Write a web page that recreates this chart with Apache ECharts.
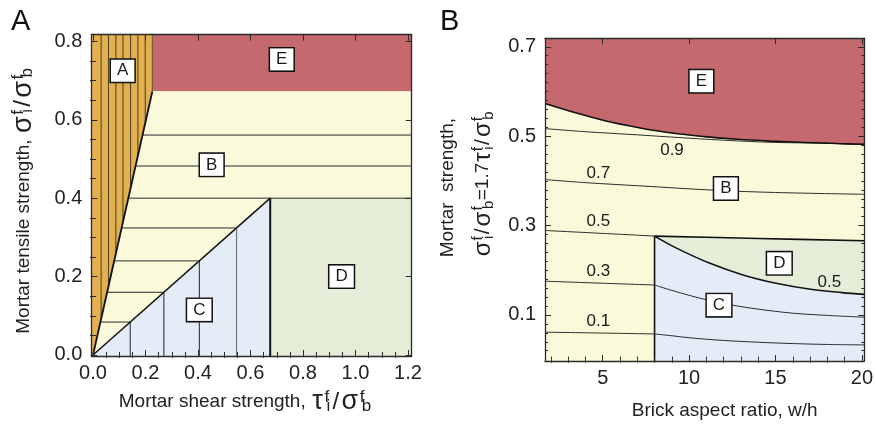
<!DOCTYPE html>
<html><head><meta charset="utf-8">
<script src="https://cdn.jsdelivr.net/npm/echarts@6/dist/echarts.min.js"></script>
<style>html,body{margin:0;padding:0;background:#fff}#c{width:876px;height:426px}</style>
</head><body><div id="c"></div>
<script>
// ---------------- Panel A data ----------------
const aTicksX = [0, 0.2, 0.4, 0.6, 0.8, 1.0, 1.2];
const aTicksY = [0, 0.2, 0.4, 0.6, 0.8];
const aExtX = [-0.0065, 1.214];
const aExtY = [-0.0026, 0.817];
const aBoundTop = [0.226, 0.672];      // A/B boundary end, E bottom
const aCornerD = [0.675, 0.4];         // C/D/B corner
const aLinesX = [0.031, 0.059, 0.087, 0.114, 0.143, 0.171, 0.199];   // contours in A
const bLinesY = [0.084, 0.160, 0.240, 0.324, 0.400, 0.482, 0.561];   // contours in B
const cLinesN = 4;                      // first 4 B contours continue into C
const aBoxPos = [[0.113, 0.725], [0.719, 0.754], [0.452, 0.485], [0.947, 0.2], [0.405, 0.115]];
const aBoxText = ['A', 'E', 'B', 'D', 'C'];

// ---------------- Panel B data ----------------
const bTicksX = [5, 10, 15, 20];
const bTicksY = [0.1, 0.3, 0.5, 0.7];
const bExtX = [1.66, 20.14];
const bExtY = [-0.003, 0.719];
const eBoundary = [[1.66,0.573],[3.28,0.554],[5.19,0.534],[7.1,0.519],[9.0,0.507],[10.9,0.499],[12.8,0.493],[14.7,0.489],[16.7,0.486],[18.6,0.4835],[20.14,0.482]];
const c09 = [[1.66,0.517],[4,0.510],[7,0.503],[9,0.498],[12,0.491],[15,0.486],[17.6,0.4845],[20.14,0.481]];
const c07 = [[1.66,0.403],[4,0.396],[7.1,0.389],[11.5,0.379],[15,0.374],[20.14,0.370]];
const c05L = [[1.66,0.289],[5,0.2825],[8,0.2765]];
const dTop = [[8,0.2765],[14,0.2712],[20.14,0.266]];
const dcBoundary = [[8,0.2765],[9.3,0.249],[11.21,0.2155],[13.12,0.1894],[15.03,0.1708],[16.94,0.158],[18.85,0.150],[20.14,0.146]];
const c03L = [[1.66,0.1755],[5,0.171],[8,0.167]];
const c03C = [[8,0.167],[9,0.155],[10,0.144],[11,0.134],[12.5,0.122],[14,0.113],[16,0.104],[18,0.099],[20.14,0.095]];
const c01L = [[1.66,0.0615],[5,0.0595],[8,0.0575]];
const c01C = [[8,0.0575],[9,0.0535],[10,0.049],[12,0.043],[14,0.039],[16,0.036],[18,0.034],[20.14,0.033]];
const cdSplitX = 8;
const bContourPos = [[9.01,0.469],[4.75,0.416],[4.75,0.309],[4.75,0.197],[4.75,0.0855],[18.12,0.174]];
const bContourText = ['0.9','0.7','0.5','0.3','0.1','0.5'];
const bBoxPos = [[10.71,0.623],[12.13,0.383],[15.22,0.2155],[11.73,0.122]];
const bBoxText = ['E','B','D','C'];

// ---------------- styling ----------------
const F = "'Liberation Sans', Arial, Helvetica, sans-serif";
const COL = {E:'#c5696e', A:'#e2b04f', B:'#fafadb', C:'#e4ecf8', D:'#e5ecd8'};
const FRAME = '#2a2a2a';

function minorList(a, b, step, majors) {
  const out = [];
  for (let v = a; v <= b + 1e-9; v += step) {
    const r = Math.round(v * 1000) / 1000;
    if (!majors.some(m => Math.abs(m - r) < 1e-6)) out.push(r);
  }
  return out;
}

function makeAxes(dir, g, ext, major, minor, fmt, nameObj, margin) {
  const pos = dir === 'x' ? ['bottom', 'top'] : ['left', 'right'];
  const base = {type:'value', gridIndex:g, min:ext[0], max:ext[1], z:10, splitLine:{show:false}};
  const line = {show:true, onZero:false, lineStyle:{color:FRAME, width:1.3}};
  const tk = (vals, len) => ({show:true, inside:true, length:len, customValues:vals, lineStyle:{color:FRAME, width:1}});
  return [
    Object.assign({}, base, {position:pos[0], axisLine:line, axisTick:tk(major, 6),
      axisLabel:{show:true, customValues:major, formatter:fmt, fontSize:20, fontFamily:F, color:'#222', margin:margin}}, nameObj),
    Object.assign({}, base, {position:pos[0], axisLine:{show:false}, axisTick:tk(minor, 3), axisLabel:{show:false}}),
    Object.assign({}, base, {position:pos[1], axisLine:line, axisTick:tk(major, 6), axisLabel:{show:false}}),
    Object.assign({}, base, {position:pos[1], axisLine:{show:false}, axisTick:tk(minor, 3), axisLabel:{show:false}})
  ];
}

function richSet(gSize, slSize, sSize, gPad, sPad) {
  return {
    n:  {fontSize:19, fontFamily:F, color:'#222', lineHeight:26, align:'left', verticalAlign:'middle'},
    n1: {fontSize:19, fontFamily:F, color:'#222', lineHeight:44, align:'left', verticalAlign:'middle'},
    g:  {fontSize:gSize, fontFamily:F, color:'#222', lineHeight:26, align:'left', verticalAlign:'middle', padding:[0,gPad/2,0,gPad]},
    sl: {fontSize:slSize, fontFamily:F, color:'#222', lineHeight:26, align:'left', verticalAlign:'middle', padding:[0,gPad,0,gPad]},
    sp: {fontSize:sSize, fontFamily:F, color:'#222', lineHeight:sSize, align:'left', verticalAlign:'top', width:1, padding:[0,0,0,sPad]},
    sb: {fontSize:sSize, fontFamily:F, color:'#222', lineHeight:sSize, align:'left', verticalAlign:'bottom', padding:[0,sPad,0,sPad]}
  };
}
const richA = richSet(27, 24, 17, 1.2, 1);
const richB = richSet(24, 21, 15, 1, 0.5);
const fracTau = '{g|τ}{sp|f}{sb|i}{sl|/}{g|σ}{sp|f}{sb|b}';
const fracSig = '{g|σ}{sp|f}{sb|i}{sl|/}{g|σ}{sp|f}{sb|b}';

function polySeries(g, polys, colors) {
  return {type:'custom', coordinateSystem:'cartesian2d', xAxisIndex:g*4, yAxisIndex:g*4, silent:true, z:1, clip:true,
    data: polys.map((p, i) => [i, 0]),
    renderItem: (params, api) => {
      const i = params.dataIndex;
      return {type:'polygon', shape:{points: polys[i].map(p => api.coord(p))},
        style:{fill:colors[i], stroke:colors[i], lineWidth:0.6}};
    }};
}
function segSeries(g, segs, color, width, z) {
  return {type:'custom', coordinateSystem:'cartesian2d', xAxisIndex:g*4, yAxisIndex:g*4, silent:true, z:z||3, clip:true,
    data: segs,
    renderItem: (params, api) => {
      const p1 = api.coord([api.value(0), api.value(1)]);
      const p2 = api.coord([api.value(2), api.value(3)]);
      return {type:'line', shape:{x1:p1[0], y1:p1[1], x2:p2[0], y2:p2[1]}, style:{stroke:color, lineWidth:width}};
    }};
}
function curve(g, pts, color, width) {
  return {type:'line', xAxisIndex:g*4, yAxisIndex:g*4, data:pts, showSymbol:false, symbol:'none', smooth:0.35,
    silent:true, z:3, lineStyle:{color:color, width:width}};
}
function textSeries(g, pos, texts, boxed, size) {
  return {type:'custom', coordinateSystem:'cartesian2d', xAxisIndex:g*4, yAxisIndex:g*4, silent:true, z:5,
    data: pos,
    renderItem: (params, api) => {
      const c = api.coord([api.value(0), api.value(1)]);
      const st = {text:texts[params.dataIndex], fontSize:size, fontFamily:F, fill:'#1a1a1a', align:'center', verticalAlign:'middle'};
      if (boxed) Object.assign(st, {backgroundColor:'#fff', borderColor:'#111', borderWidth:1.5, padding:[3,6,2,6]});
      return {type:'text', x:c[0], y:c[1], style:st};
    }};
}

// ---- Panel A geometry from data ----
const [ax0, ax1] = aExtX, [ay0, ay1] = aExtY;
const [bx, by] = aBoundTop, [cx, cy] = aCornerD;
const polysA = [
  [[ax0,ay0],[ax0,ay1],[bx,ay1],[bx,by],[0,0],[0,ay0]],      // A
  [[bx,by],[bx,ay1],[ax1,ay1],[ax1,by]],                      // E
  [[0,0],[bx,by],[ax1,by],[ax1,cy],[cx,cy]],                  // B
  [[0,ay0],[0,0],[cx,cy],[cx,ay0]],                           // C
  [[cx,ay0],[cx,cy],[ax1,cy],[ax1,ay0]]                       // D
];
const colorsA = [COL.A, COL.E, COL.B, COL.C, COL.D];
const slopeA = by / bx, slopeC = cy / cx;
const segA = aLinesX.map(x => [x, x * slopeA, x, ay1]);
const segB = bLinesY.map(y => [y / slopeA, y, (y < cy - 1e-9 ? y / slopeC : ax1), y]);
const segC = bLinesY.slice(0, cLinesN).map(y => [y / slopeC, y, y / slopeC, ay0]);

// ---- Panel B geometry from data ----
const [bx0, bx1] = bExtX, [by0, by1] = bExtY;
const polysB = [
  [[bx0,by0],[bx0,by1],[bx1,by1],[bx1,by0]],
  eBoundary.concat([[bx1,by1],[bx0,by1]]),
  dTop.concat(dcBoundary.slice().reverse()),
  [[cdSplitX,by0]].concat(dcBoundary, [[bx1,by0]])
];
const colorsB = [COL.B, COL.E, COL.D, COL.C];

const nameAx = {name:'{n|Mortar shear strength, }' + fracTau, nameLocation:'middle', nameGap:33,
  nameTextStyle:{rich:richA, padding:[0,12,0,0]}};
const nameAy = {name:'{n|Mortar tensile strength, }' + fracSig, nameLocation:'middle', nameGap:55,
  nameTextStyle:{rich:richA, padding:[0,10,0,0]}};
const nameBx = {name:'Brick aspect ratio, w/h', nameLocation:'middle', nameGap:40,
  nameTextStyle:{fontSize:19, fontFamily:F, color:'#222', padding:[0,0,0,40]}};
const nameBy = {name:'{n1|Mortar  strength,}\n' + fracSig + '{n|=1.7}' + fracTau,
  nameLocation:'middle', nameGap:49, nameTextStyle:{rich:richB, padding:[0,0,0,31]}};

const fmt1 = v => v.toFixed(1);
const xAxes = makeAxes('x', 0, aExtX, aTicksX, minorList(0, 1.2, 0.05, aTicksX), fmt1, nameAx, 7)
  .concat(makeAxes('x', 1, bExtX, bTicksX, minorList(2, 20, 1, bTicksX), v => String(v), nameBx, 7));
const yAxes = makeAxes('y', 0, aExtY, aTicksY, minorList(0, 0.8, 0.05, aTicksY), fmt1, nameAy, 9)
  .concat(makeAxes('y', 1, bExtY, bTicksY, minorList(0.02, 0.7, 0.02, bTicksY), fmt1, nameBy, 9));

const option = {
  animation:false,
  backgroundColor:'#fff',
  grid:[
    {left:91.3, top:34.7, width:320.4, height:321.3},
    {left:545, top:38.3, width:322.5, height:322.7}
  ],
  xAxis:xAxes,
  yAxis:yAxes,
  graphic:[
    {type:'text', left:11, top:7, style:{text:'A', fontSize:29, fontFamily:F, fill:'#111'}},
    {type:'text', left:440, top:7, style:{text:'B', fontSize:29, fontFamily:F, fill:'#111'}}
  ],
  series:[
    polySeries(0, polysA, colorsA),
    segSeries(0, segA, '#554628', 1.1),
    segSeries(0, [[bx, by, bx, ay1]], '#6a5a35', 1),
    segSeries(0, segB, '#2a2a2a', 1),
    segSeries(0, segC.slice(0, 3), '#222', 1),
    segSeries(0, segC.slice(3), '#777', 1.2),
    segSeries(0, [[0, 0, bx, by]], '#111', 1.8, 4),
    segSeries(0, [[0, 0, cx, cy]], '#111', 1.5, 4),
    segSeries(0, [[cx, ay0, cx, cy]], '#111', 2, 4),
    textSeries(0, aBoxPos, aBoxText, true, 17),

    polySeries(1, polysB, colorsB),
    curve(1, c09, '#2d2d2d', 1),
    curve(1, c07, '#2d2d2d', 1),
    curve(1, c05L, '#2d2d2d', 1),
    curve(1, c03L, '#2d2d2d', 1),
    curve(1, c03C, '#2d2d2d', 1),
    curve(1, c01L, '#2d2d2d', 1),
    curve(1, c01C, '#2d2d2d', 1),
    curve(1, eBoundary, '#111', 1.6),
    curve(1, dTop, '#111', 1.6),
    curve(1, dcBoundary, '#111', 1.6),
    segSeries(1, [[cdSplitX, by0, cdSplitX, dTop[0][1]]], '#111', 1.6, 4),
    textSeries(1, bContourPos, bContourText, false, 17),
    textSeries(1, bBoxPos, bBoxText, true, 17)
  ]
};
const chart = echarts.init(document.getElementById('c'), null, {renderer:'canvas'});
chart.setOption(option);
</script>
</body></html>
